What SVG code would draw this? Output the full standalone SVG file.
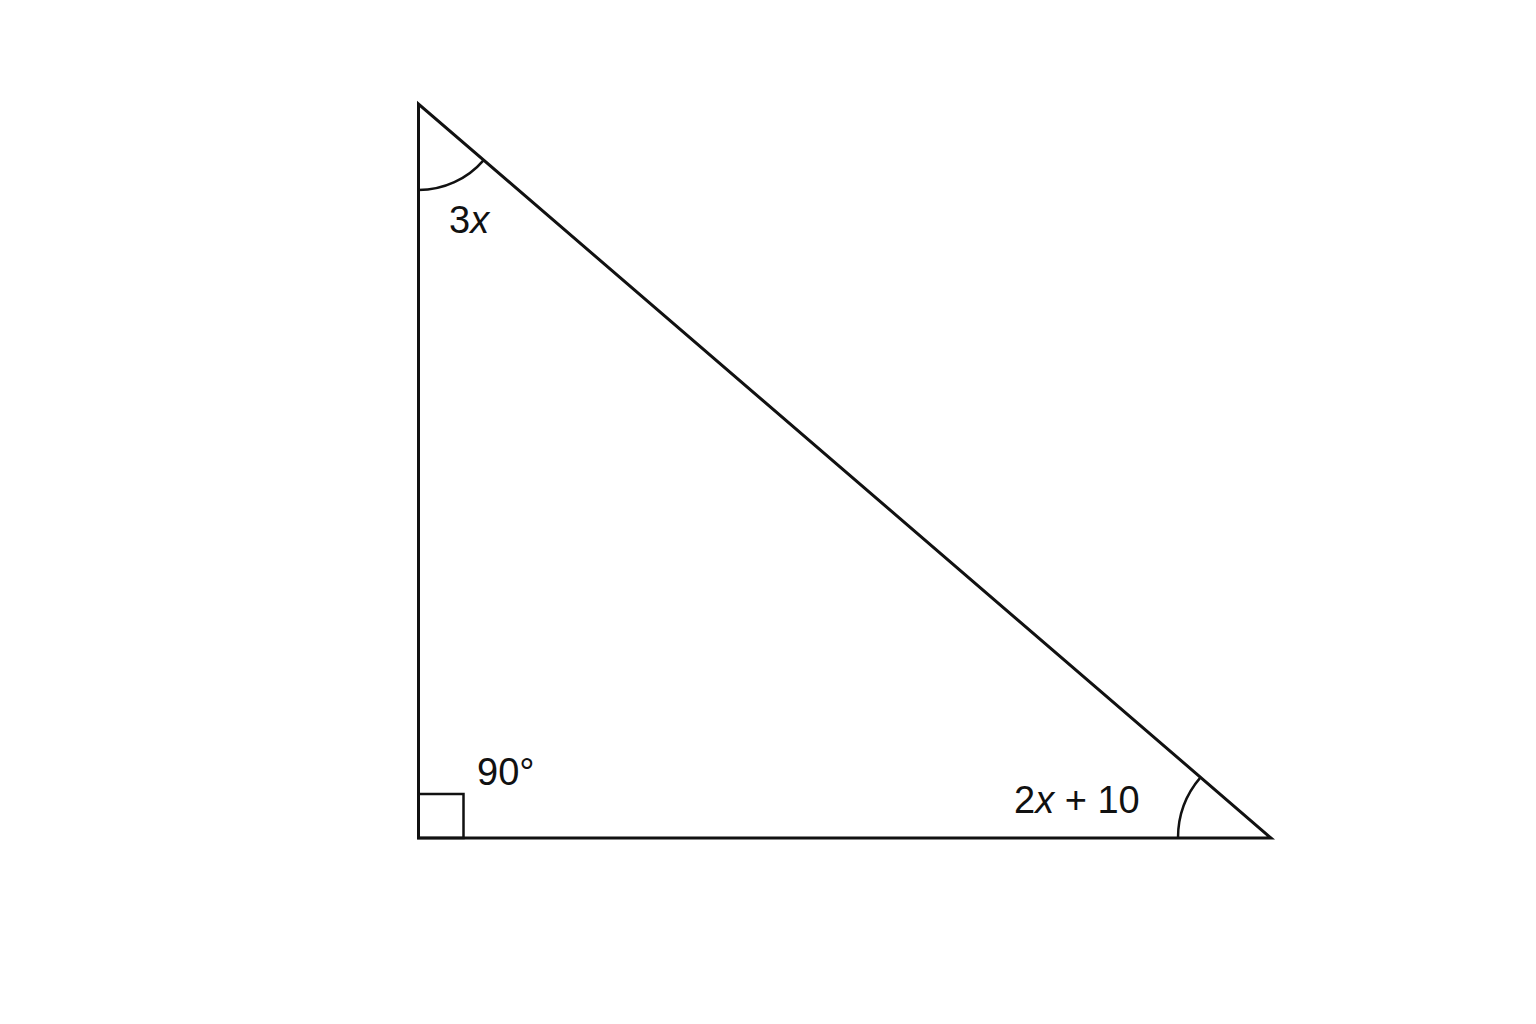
<svg xmlns="http://www.w3.org/2000/svg" width="1536" height="1024" viewBox="0 0 1536 1024">
<style>
.ln{fill:none;stroke:#111;stroke-width:3;stroke-linejoin:miter}
.mk{fill:none;stroke:#111;stroke-width:2.5}
.lb{font-family:"Liberation Sans",Arial,sans-serif;font-size:38px;fill:#111}
</style>
<rect width="1536" height="1024" fill="#fff"/>
<g id="triangle">
<polygon class="ln" points="418.5,104 418.5,838 1271,838"/>
</g>
<g id="angle-top">
<path class="mk" d="M418.5,190 A86,86 0 0 0 483.7,160.1"/>
<text class="lb" x="449" y="233">3<tspan font-style="italic">x</tspan></text>
</g>
<g id="angle-right">
<rect class="mk" x="418.5" y="794" width="45" height="44"/>
<text class="lb" x="477" y="785">90°</text>
</g>
<g id="angle-bottom-right">
<path class="mk" d="M1178,838 A93,93 0 0 1 1200.5,777.4"/>
<text class="lb" x="1014" y="813">2<tspan font-style="italic">x</tspan> + 10</text>
</g>
</svg>
